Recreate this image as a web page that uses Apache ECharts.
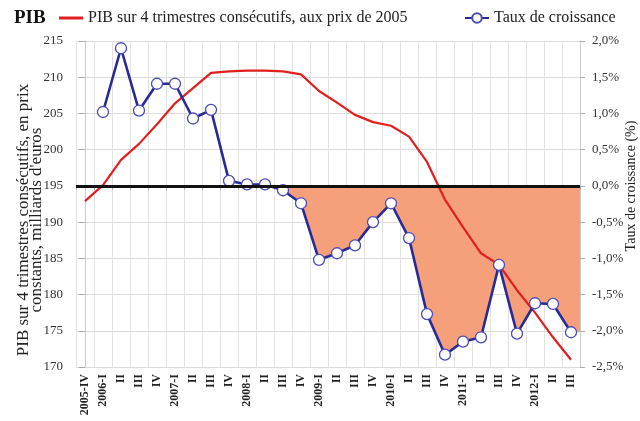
<!DOCTYPE html>
<html>
<head>
<meta charset="utf-8">
<script src="https://cdn.jsdelivr.net/npm/echarts@6/dist/echarts.min.js"></script>
<style>
  html, body { margin: 0; padding: 0; background: #fff; }
  #chart { width: 640px; height: 421px; }
</style>
</head>
<body>
<div id="chart"></div>
<script>
// trimestres
const categories = ['2005-IV', '2006-I', 'II', 'III', 'IV', '2007-I', 'II', 'III', 'IV',
  '2008-I', 'II', 'III', 'IV', '2009-I', 'II', 'III', 'IV', '2010-I', 'II', 'III', 'IV',
  '2011-I', 'II', 'III', 'IV', '2012-I', 'II', 'III'];

// PIB sur 4 trimestres (milliards d'euros, prix 2005)
const pibValues = [192.9, 195.1, 198.6, 200.8, 203.5, 206.4, 208.5, 210.6, 210.8,
  210.9, 210.9, 210.8, 210.4, 208.1, 206.5, 204.8, 203.8, 203.3, 201.8, 198.3, 193.1,
  189.3, 185.7, 184.1, 180.6, 177.5, 174.1, 171.0];

// taux de croissance (%)
const croissanceValues = [null, 1.02, 1.90, 1.04, 1.41, 1.41, 0.93, 1.05, 0.07,
  0.02, 0.02, -0.06, -0.24, -1.02, -0.93, -0.82, -0.50, -0.24, -0.72, -1.77, -2.33,
  -2.15, -2.09, -1.09, -2.04, -1.62, -1.63, -2.02];

const fillStart = 11; // zone orange à partir de 2008-III

// zone négative : mêmes points que le taux, prolongée jusqu'au bord droit
const fillData = [];
croissanceValues.forEach((v, i) => {
  if (i >= fillStart && v != null) fillData.push([i, Math.min(0, v)]);
});
fillData.push([categories.length - 0.5, fillData[fillData.length - 1][1]]);

const serif = 'Liberation Serif';
const pctLabel = v => v.toFixed(1).replace('.', ',') + '%';

const chart = echarts.init(document.getElementById('chart'));

chart.setOption({
  animation: false,
  textStyle: { fontFamily: serif },
  title: {
    text: 'PIB',
    left: 9, top: 4,
    textStyle: { fontFamily: serif, fontSize: 19, fontWeight: 'bold', color: '#111' }
  },
  legend: [
    {
      data: [{ name: 'PIB sur 4 trimestres consécutifs, aux prix de 2005', icon: 'rect' }],
      left: 54, top: 5,
      itemWidth: 24, itemHeight: 3,
      textStyle: { fontFamily: serif, fontSize: 16, color: '#222' }
    },
    {
      data: ['Taux de croissance'],
      left: 459, top: 5,
      itemWidth: 24, itemHeight: 12,
      textStyle: { fontFamily: serif, fontSize: 16, color: '#222' }
    }
  ],
  grid: { left: 76, right: 60, top: 41, bottom: 54, outerBoundsMode: 'none', containLabel: false },
  xAxis: [
    {
      type: 'category',
      data: categories,
      boundaryGap: true,
      axisLine: { lineStyle: { color: '#aaa' } },
      axisTick: { show: true, length: 4, lineStyle: { color: '#aaa' } },
      axisLabel: {
        rotate: 90, interval: 0, margin: 7,
        fontFamily: serif, fontSize: 12, fontWeight: 'bold', color: '#222'
      },
      splitLine: { show: true, lineStyle: { color: '#e2e2e2' } }
    },
    {
      type: 'value',
      min: -0.5, max: categories.length - 0.5,
      show: false
    }
  ],
  yAxis: [
    {
      type: 'value',
      min: 170, max: 215, interval: 5,
      name: "PIB sur 4 trimestres consécutifs, en prix\nconstants, milliards d'euros",
      nameLocation: 'middle', nameRotate: 90, nameGap: 33, nameMoveOverlap: false,
      nameTextStyle: { fontFamily: serif, fontSize: 17, color: '#222', lineHeight: 13, padding: [0, 32, 0, 0] },
      axisLine: { show: true, lineStyle: { color: '#ccc' } },
      axisTick: { show: true, length: 6, lineStyle: { color: '#aaa' } },
      axisLabel: { fontFamily: serif, fontSize: 13, color: '#333', margin: 13 },
      splitLine: { show: true, lineStyle: { color: '#dcdcdc' } }
    },
    {
      type: 'value',
      min: -2.5, max: 2, interval: 0.5,
      name: 'Taux de croissance (%)',
      nameLocation: 'middle', nameRotate: 90, nameGap: 44, nameMoveOverlap: false,
      nameTextStyle: { fontFamily: serif, fontSize: 14, color: '#222', padding: [0, 0, 0, 36] },
      axisLine: { show: true, lineStyle: { color: '#ccc' } },
      axisTick: { show: true, length: 5, lineStyle: { color: '#aaa' } },
      axisLabel: { fontFamily: serif, fontSize: 13, color: '#333', margin: 12, formatter: pctLabel },
      splitLine: { show: false }
    }
  ],
  series: [
    {
      name: 'zone',
      type: 'line',
      xAxisIndex: 1,
      yAxisIndex: 1,
      data: fillData,
      symbol: 'none',
      lineStyle: { width: 0 },
      areaStyle: { color: '#f5a07a', opacity: 1 },
      z: 1,
      silent: true,
      markLine: {
        silent: true,
        symbol: 'none',
        label: { show: false },
        lineStyle: { color: '#111', width: 3, type: 'solid' },
        data: [{ yAxis: 0 }]
      }
    },
    {
      name: 'PIB sur 4 trimestres consécutifs, aux prix de 2005',
      type: 'line',
      yAxisIndex: 0,
      data: pibValues,
      symbol: 'none',
      lineStyle: { color: '#e01f1f', width: 2.2 },
      itemStyle: { color: '#e01f1f' },
      z: 3
    },
    {
      name: 'Taux de croissance',
      type: 'line',
      yAxisIndex: 1,
      data: croissanceValues,
      symbol: 'circle',
      symbolSize: 11,
      showAllSymbol: true,
      lineStyle: { color: '#2a2a96', width: 2.6 },
      itemStyle: { color: '#fff', borderColor: '#4a4ab8', borderWidth: 1.3 },
      z: 4
    }
  ]
});
</script>
</body>
</html>
